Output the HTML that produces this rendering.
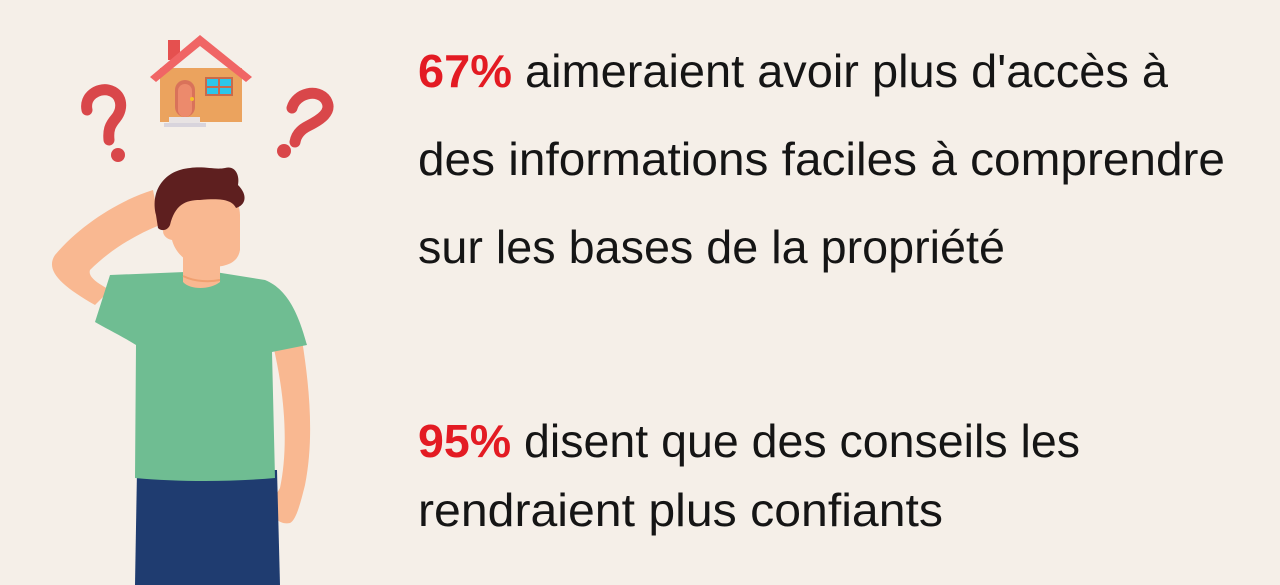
<!DOCTYPE html>
<html><head><meta charset="utf-8"><style>
html,body{margin:0;padding:0;background:#f5efe8;}
svg{display:block}
text{font-family:"Liberation Sans",sans-serif;font-size:46px;fill:#151515;}
.r{fill:#e31b23;font-weight:bold}
</style></head><body>
<svg width="1280" height="585" viewBox="0 0 1280 585" xmlns="http://www.w3.org/2000/svg">
<rect width="1280" height="585" fill="#f5efe8"/>
<!-- house -->
<rect x="168" y="40" width="12" height="20" fill="#e5504f"/>
<rect x="160" y="68" width="82" height="54" fill="#eba35e"/>
<polygon points="200,35 252,77 246,82 200,46 156,82 150,77" fill="#f06565"/>
<rect x="175" y="80" width="20" height="37" rx="10" fill="#d9725a"/>
<rect x="178" y="84" width="14" height="33" rx="7" fill="#ec8a6c"/>
<circle cx="192" cy="99" r="2" fill="#f5c02a"/>
<rect x="205" y="77" width="28" height="19" fill="#c86a4c"/>
<rect x="207" y="79" width="11" height="7" fill="#2cc6ea"/><rect x="220" y="79" width="11" height="7" fill="#2cc6ea"/>
<rect x="207" y="88" width="11" height="6" fill="#2cc6ea"/><rect x="220" y="88" width="11" height="6" fill="#2cc6ea"/>
<rect x="169" y="117" width="31" height="6" fill="#e8e3e3"/>
<rect x="164" y="123" width="42" height="4" fill="#d8d4dc"/>
<!-- question marks -->
<path d="M87,110 C84,96 98,88 108,90 C122,93 124,108 116,118 C110,125 108,130 109,140" fill="none" stroke="#d9474a" stroke-width="11" stroke-linecap="round"/>
<circle cx="118" cy="155" r="7" fill="#d9474a"/>
<path d="M292,108 C296,93 318,88 326,100 C333,112 320,120 308,126 C300,130 296,136 295,142" fill="none" stroke="#d9474a" stroke-width="11" stroke-linecap="round"/>
<circle cx="284" cy="151" r="7" fill="#d9474a"/>
<!-- raised arm -->
<path d="M153,190 C120,200 80,225 55,255 C45,270 60,285 95,305 L110,290 C95,282 88,276 90,270 C110,250 135,235 160,225 Z" fill="#f9b891"/>
<!-- right arm -->
<path d="M273,345 L302,340 C310,390 314,440 305,485 C300,505 296,520 290,523 C280,525 272,518 270,505 L280,488 C288,450 286,400 273,345 Z" fill="#f9b891"/>
<!-- pants -->
<path d="M137,470 L277,470 L280,585 L135,585 Z" fill="#1f3c70"/>
<!-- shirt -->
<path d="M110,275 L185,272 L215,272 L265,280 C290,290 300,320 307,345 L272,352 L275,478 C230,482 180,482 135,478 L136,345 C120,335 105,328 95,322 Z" fill="#6fbd92"/>
<!-- neck -->
<path d="M183,253 L220,253 L220,282 C210,290 190,290 183,282 Z" fill="#f9b891"/>
<path d="M183,276 C195,282 210,282 220,280" stroke="#f0a070" stroke-width="2" fill="none"/>
<!-- face -->
<path d="M167,205 C167,195 180,190 200,190 C230,190 240,200 240,215 L240,250 C238,262 228,267 210,267 C190,267 176,255 172,240 C162,238 160,228 168,225 Z" fill="#f9b891"/>
<!-- hair -->
<path d="M156,215 C150,190 165,170 190,168 C205,166 215,170 225,168 C235,165 240,175 238,185 C248,195 246,205 236,208 C232,200 222,198 200,200 C185,200 175,205 170,225 C168,230 162,232 158,228 Z" fill="#5e1f1f"/>
<!-- text -->
<text x="418" y="87" textLength="750" lengthAdjust="spacingAndGlyphs"><tspan class="r">67%</tspan> aimeraient avoir plus d'accès à</text>
<text x="418" y="175" textLength="807" lengthAdjust="spacingAndGlyphs">des informations faciles à comprendre</text>
<text x="418" y="263" textLength="587" lengthAdjust="spacingAndGlyphs">sur les bases de la propriété</text>
<text x="418" y="457" textLength="662" lengthAdjust="spacingAndGlyphs"><tspan class="r">95%</tspan> disent que des conseils les</text>
<text x="418" y="526" textLength="525" lengthAdjust="spacingAndGlyphs">rendraient plus confiants</text>
</svg>
</body></html>
